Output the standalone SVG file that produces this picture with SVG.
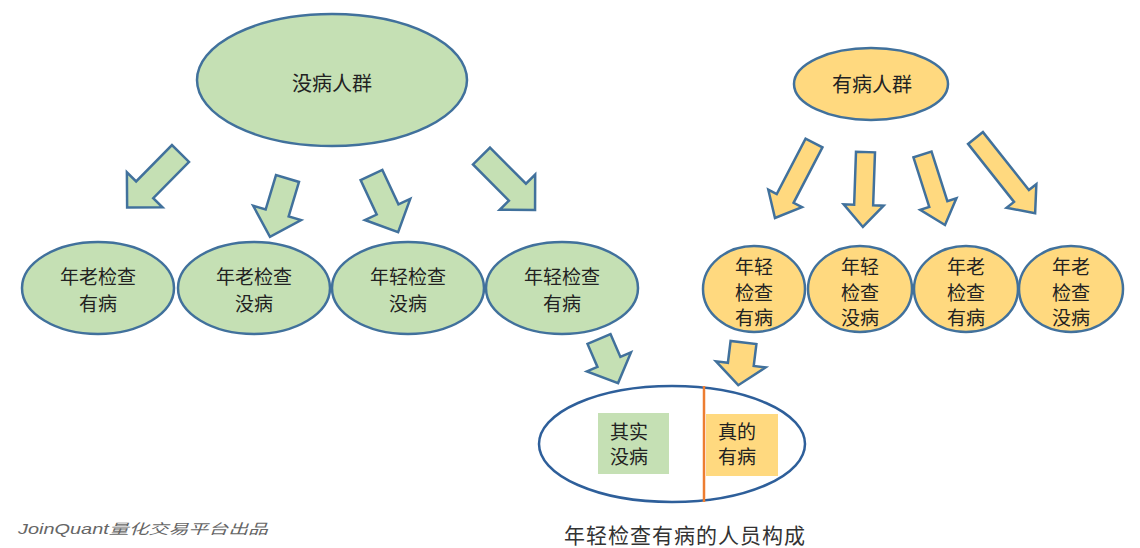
<svg xmlns="http://www.w3.org/2000/svg" width="1140" height="548" viewBox="0 0 1140 548">
<style>
.g{fill:#c5e0b4;stroke:#41719c;stroke-width:2.5}
.y{fill:#ffd97f;stroke:#41719c;stroke-width:2.5}
.t{font-family:"Noto Sans CJK SC","Noto Sans",sans-serif;font-size:20px;fill:#222;text-anchor:middle;dominant-baseline:central}
.m{font-size:19px}
</style>
<rect width="1140" height="548" fill="#fff"/>
<g id="connectors">
<polygon class="g" transform="translate(180.5,153.5) rotate(134.6)" points="0,-12 51,-12 51,-25 76,0 51,25 51,12 0,12"/>
<polygon class="g" transform="translate(287.5,178.5) rotate(106.7)" points="0,-12 36,-12 36,-25 61,0 36,25 36,12 0,12"/>
<polygon class="g" transform="translate(371.5,175) rotate(65)" points="0,-12 38,-12 38,-25 63,0 38,25 38,12 0,12"/>
<polygon class="g" transform="translate(481.5,156) rotate(45.2)" points="0,-12 51,-12 51,-25 76,0 51,25 51,12 0,12"/>
<polygon class="y" transform="translate(814,143) rotate(117.5)" points="0,-9.5 62.5,-9.5 62.5,-19 84.5,0 62.5,19 62.5,9.5 0,9.5"/>
<polygon class="y" transform="translate(865.5,152) rotate(92)" points="0,-9.5 53,-9.5 53,-20 75,0 53,20 53,9.5 0,9.5"/>
<polygon class="y" transform="translate(922.5,154.5) rotate(72.3)" points="0,-9.5 52,-9.5 52,-19 74,0 52,19 52,9.5 0,9.5"/>
<polygon class="y" transform="translate(975.5,138) rotate(51.6)" points="0,-9.5 74,-9.5 74,-19 96,0 74,19 74,9.5 0,9.5"/>
<polygon class="g" transform="translate(599,339) rotate(66.6)" points="0,-12.5 25,-12.5 25,-24 48,0 25,24 25,12.5 0,12.5"/>
<polygon class="y" transform="translate(743.5,342.5) rotate(97)" points="0,-13 22,-13 22,-25 43,0 22,25 22,13 0,13"/>
</g>
<g id="healthy">
<ellipse class="g" cx="332" cy="80" rx="135" ry="66"/>
<text class="t" x="332" y="82">没病人群</text>
</g>
<g id="sick">
<ellipse class="y" cx="871" cy="84" rx="77" ry="36"/>
<text class="t" x="872" y="83">有病人群</text>
</g>
<g id="g1">
<ellipse class="g" cx="98" cy="288" rx="76" ry="46"/>
<text class="t m" x="98" y="275">年老检查</text>
<text class="t m" x="98" y="302">有病</text>
</g>
<g id="g2">
<ellipse class="g" cx="254" cy="288" rx="76" ry="46"/>
<text class="t m" x="254" y="275">年老检查</text>
<text class="t m" x="254" y="302">没病</text>
</g>
<g id="g3">
<ellipse class="g" cx="408" cy="288" rx="76" ry="46"/>
<text class="t m" x="408" y="275">年轻检查</text>
<text class="t m" x="408" y="302">没病</text>
</g>
<g id="g4">
<ellipse class="g" cx="562" cy="288" rx="76" ry="46"/>
<text class="t m" x="562" y="275">年轻检查</text>
<text class="t m" x="562" y="302">有病</text>
</g>
<g id="y1">
<ellipse class="y" cx="754" cy="289" rx="51" ry="43"/>
<text class="t m" x="754" y="265">年轻</text>
<text class="t m" x="754" y="291">检查</text>
<text class="t m" x="754" y="316">有病</text>
</g>
<g id="y2">
<ellipse class="y" cx="860" cy="289" rx="52" ry="43"/>
<text class="t m" x="860" y="265">年轻</text>
<text class="t m" x="860" y="291">检查</text>
<text class="t m" x="860" y="316">没病</text>
</g>
<g id="y3">
<ellipse class="y" cx="966" cy="289" rx="52" ry="43"/>
<text class="t m" x="966" y="265">年老</text>
<text class="t m" x="966" y="291">检查</text>
<text class="t m" x="966" y="316">有病</text>
</g>
<g id="y4">
<ellipse class="y" cx="1071" cy="289" rx="52" ry="43"/>
<text class="t m" x="1071" y="265">年老</text>
<text class="t m" x="1071" y="291">检查</text>
<text class="t m" x="1071" y="316">没病</text>
</g>
<g id="composition">
<ellipse cx="672" cy="444" rx="133" ry="58" fill="#fff" stroke="#2e5f9a" stroke-width="2.5"/>
<rect x="598" y="413" width="71" height="61" fill="#c5e0b4"/>
<rect x="706" y="414" width="72" height="62" fill="#ffd97f"/>
<line x1="704" y1="386" x2="704" y2="502" stroke="#ed7d31" stroke-width="2.5"/>
<text class="t m" x="629" y="430">其实</text>
<text class="t m" x="629" y="455">没病</text>
<text class="t m" x="737" y="430">真的</text>
<text class="t m" x="737" y="455">有病</text>
</g>
<text class="t" x="685" y="534" style="font-size:21px;letter-spacing:1px;fill:#333">年轻检查有病的人员构成</text>
<text x="18" y="534" font-family="'Liberation Sans','Noto Sans CJK SC',sans-serif" font-size="14" font-style="italic" fill="#666" textLength="250" lengthAdjust="spacingAndGlyphs">JoinQuant量化交易平台出品</text>
</svg>
